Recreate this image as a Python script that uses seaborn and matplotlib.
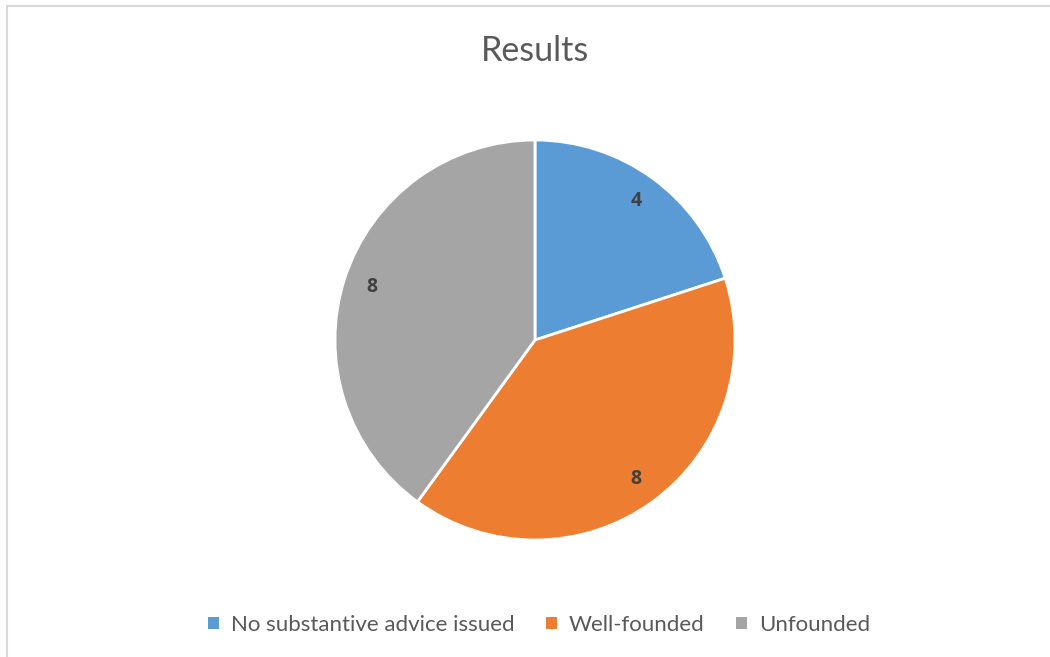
import matplotlib
matplotlib.use("Agg")
import matplotlib.pyplot as plt
from matplotlib.patches import Patch, Rectangle
import seaborn as sns

# Data
categories = ["No substantive advice issued", "Well-founded", "Unfounded"]
values = [4, 8, 8]
colors = ["#5B9BD5", "#ED7D31", "#A5A5A5"]
title = "Results"

sns.set_theme(style="white")
plt.rcParams["font.family"] = ["Lato", "DejaVu Sans"]

fig = plt.figure(figsize=(10.5, 6.57), dpi=100)
fig.patch.set_facecolor("white")

# Chart frame (light grey border)
fig.add_artist(Rectangle((6.5 / 1050, -0.05), 1.2, 1.05 - 6.5 / 657,
                         transform=fig.transFigure, fill=False,
                         edgecolor="#d9d9d9", linewidth=1.5))

ax = fig.add_axes([335 / 1050, (657 - 540) / 657, 400 / 1050, 400 / 657])
palette = sns.color_palette(colors)
wedges, texts = ax.pie(
    values,
    colors=palette,
    startangle=90,
    counterclock=False,
    labels=[str(v) for v in values],
    labeldistance=0.86,
    wedgeprops=dict(edgecolor="white", linewidth=2),
    textprops=dict(color="#404040", fontsize=14, fontweight="bold",
                   family=["Open Sans", "DejaVu Sans"],
                   ha="center", va="center"),
)
ax.set_aspect("equal")
ax.set_xlim(-1, 1)
ax.set_ylim(-1, 1)

fig.text(535 / 1050, 1 - 51 / 657, title, ha="center", va="center",
         fontsize=24.5, color="#595959")

handles = [Patch(facecolor=c, edgecolor="none") for c in colors]
leg = fig.legend(handles, categories, loc="center", ncol=3,
                 bbox_to_anchor=(539 / 1050, 1 - 625 / 657),
                 frameon=False, fontsize=16, handlelength=0.5,
                 handleheight=0.5, handletextpad=0.55, columnspacing=1.4,
                 labelcolor="#595959")

fig.savefig("out.png", dpi=100, facecolor="white")
